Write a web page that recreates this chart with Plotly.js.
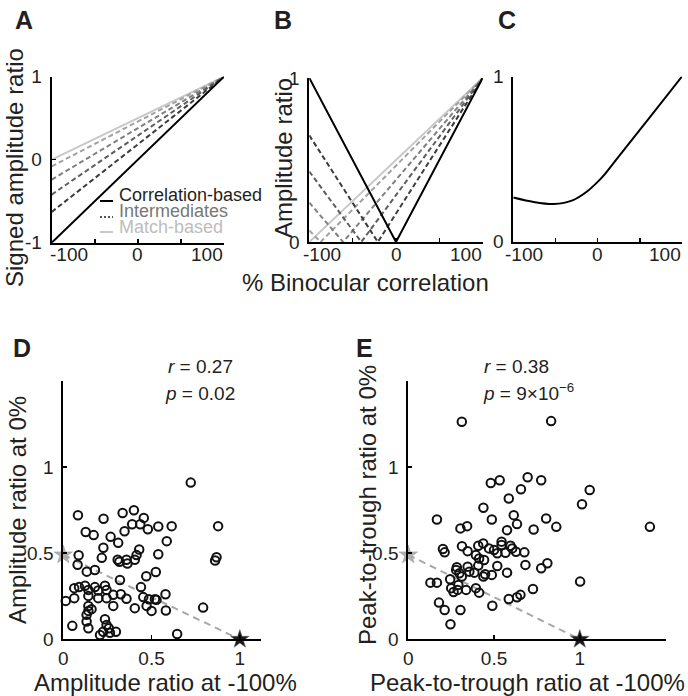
<!DOCTYPE html>
<html>
<head>
<meta charset="utf-8">
<script src="https://cdn.plot.ly/plotly-3.0.1.min.js"></script>
<style>html,body{margin:0;padding:0;background:#fff;}#chart{width:688px;height:696px;}</style>
</head>
<body>
<div id="chart"></div>
<script>
// ---------- DATA ----------
// Panel A: signed amplitude ratio vs % binocular correlation
const corrX = [-100, 100];
const aCorrY = [-1, 1];            // correlation-based
const aMatchY = [0, 1];            // match-based
const aInterStart = [-0.63, -0.42, -0.24, -0.08]; // intermediates at -100%
const aInterEnd = 1;
// Panel B: amplitude ratio
const bCorrX = [-100, 0, 100];
const bCorrY = [1, 0, 1];
const bMatchY = [0, 1];
const bInterStart = [0.65, 0.43, 0.24, 0.07];
const bInterZero = [-21, -40, -61, -87];
// Panel C
const cX = [-100, -76, -52, -29, -13, 0, 7, 23, 62, 100];
const cY = [0.268, 0.241, 0.228, 0.252, 0.302, 0.362, 0.40, 0.503, 0.754, 1.0];
// Panel D: amplitude ratio at -100% (x) vs at 0% (y)
const dX = [0.722,0.083,0.228,0.336,0.400,0.456,0.390,0.436,0.479,0.538,0.614,0.877,0.127,0.172,0.347,0.268,0.311,0.586,0.227,0.430,0.087,0.218,0.538,0.415,0.308,0.358,0.405,0.318,0.363,0.868,0.860,0.081,0.133,0.179,0.321,0.524,0.470,
  0.062,0.089,0.123,0.142,0.179,0.198,0.236,0.245,0.142,0.198,0.245,0.283,0.326,0.358,0.014,0.062,0.283,0.405,0.440,0.453,0.485,0.519,0.472,0.500,0.579,0.528,0.581,0.792,0.645,0.142,0.142,0.160,0.132,0.051,0.132,0.142,0.236,0.245,0.258,0.226,0.264,0.298,0.208];
const dY = [0.910,0.720,0.700,0.733,0.749,0.705,0.668,0.668,0.639,0.655,0.657,0.657,0.623,0.605,0.627,0.595,0.560,0.570,0.532,0.521,0.488,0.473,0.494,0.489,0.462,0.462,0.462,0.450,0.440,0.476,0.458,0.433,0.393,0.402,0.344,0.391,0.366,
  0.297,0.303,0.311,0.287,0.303,0.283,0.311,0.287,0.252,0.239,0.239,0.258,0.262,0.235,0.223,0.239,0.194,0.181,0.303,0.245,0.233,0.233,0.194,0.165,0.262,0.229,0.167,0.184,0.031,0.194,0.165,0.175,0.142,0.078,0.103,0.064,0.117,0.083,0.064,0.044,0.038,0.044,0.025];
// Panel E: peak-to-trough ratio at -100% (x) vs at 0% (y)
const eX = [0.312,0.833,0.481,0.533,0.696,0.775,0.657,1.058,1.013,0.586,0.438,1.409,0.167,0.487,0.615,0.804,0.863,0.304,0.343,0.634,0.576,0.731,0.202,0.212,0.313,0.346,0.408,0.437,0.471,0.500,0.394,0.413,0.544,0.544,0.596,0.606,0.628,0.677,0.519,0.567,0.442,0.408,0.519,0.683,0.775,0.811,0.283,0.279,0.346,0.356,0.312,0.298,0.385,0.438,0.448,0.487,0.576,0.244,0.129,0.167,0.250,0.264,0.288,0.337,0.394,0.413,0.292,0.727,1.002,0.179,0.212,0.304,0.490,0.586,0.634,0.654,0.246];
const eY = [1.263,1.267,0.908,0.924,0.941,0.924,0.871,0.867,0.784,0.818,0.764,0.653,0.696,0.696,0.721,0.702,0.653,0.644,0.657,0.669,0.634,0.638,0.524,0.505,0.541,0.512,0.543,0.557,0.528,0.518,0.489,0.469,0.567,0.548,0.543,0.528,0.508,0.505,0.500,0.503,0.461,0.428,0.426,0.432,0.413,0.442,0.419,0.403,0.422,0.393,0.364,0.384,0.387,0.364,0.378,0.374,0.387,0.349,0.329,0.329,0.297,0.275,0.287,0.287,0.297,0.271,0.316,0.292,0.335,0.213,0.170,0.170,0.195,0.234,0.244,0.258,0.087];
// Model predictions (match-based, correlation-based)
const modelX = [0, 1];
const modelY = [0.49, 0];
// Tick labels
const corrTicks = [-100, -50, 0, 50, 100];
const corrTickLabels = ['-100', '0', '100'];
const corrTickLabelVals = [-100, 0, 100];

const interColors = ['#3c3c3c', '#5e5e5e', '#808080', '#a2a2a2'];
const matchColor = '#c8c8c8';

// ---------- LAYOUT HELPERS ----------
const W = 688, H = 696;
const px = v => v / W;
const py = v => 1 - v / H;
const TXT = '#231f20';
const FONT = '"Liberation Sans", Arial, Helvetica, sans-serif';

function axis(x0, x1, range, tickvals, ticktext, anchor, isY) {
  const a = {
    domain: isY ? [py(x1), py(x0)] : [px(x0), px(x1)],
    range: range, anchor: anchor,
    tickmode: 'array', tickvals: tickvals,
    showline: true, linecolor: '#000', linewidth: 2,
    ticks: 'inside', ticklen: 4, tickwidth: 1.5, tickcolor: '#000',
    showgrid: false, zeroline: false, fixedrange: true,
    tickfont: {size: 19, color: TXT, family: FONT},
    ticklabelstandoff: isY ? 4 : 1
  };
  if (ticktext) a.ticktext = ticktext; else a.showticklabels = false;
  return a;
}

const traces = [];
function line(x, y, xa, ya, color, width, dash) {
  traces.push({type: 'scatter', mode: 'lines', x: x, y: y, xaxis: xa, yaxis: ya,
    line: {color: color, width: width, dash: dash || 'solid'}, cliponaxis: false, hoverinfo: 'skip'});
}

// Panel A
line(corrX, aMatchY, 'x', 'y', matchColor, 2);
for (let i = aInterStart.length - 1; i >= 0; i--) {
  line(corrX, [aInterStart[i], aInterEnd], 'x', 'y', interColors[i], 2, '5px,3px');
}
line(corrX, aCorrY, 'x', 'y', '#000', 2);

// Panel B
line(corrX, bMatchY, 'x2', 'y2', matchColor, 2);
for (let i = bInterStart.length - 1; i >= 0; i--) {
  line([corrX[0], bInterZero[i], corrX[1]], [bInterStart[i], 0, 1], 'x2', 'y2', interColors[i], 2, '5px,3px');
}
line(bCorrX, bCorrY, 'x2', 'y2', '#000', 2);

// Panel C
traces.push({type: 'scatter', mode: 'lines', x: cX, y: cY, xaxis: 'x3', yaxis: 'y3',
  line: {color: '#000', width: 2, shape: 'spline', smoothing: 0.8}, cliponaxis: false});

// Panels D and E
[['x4', 'y4', dX, dY], ['x5', 'y5', eX, eY]].forEach(([xa, ya, X, Y]) => {
  traces.push({type: 'scatter', mode: 'lines', x: modelX, y: modelY, xaxis: xa, yaxis: ya,
    line: {color: '#a8a8a8', width: 2, dash: '7px,5px'}, cliponaxis: false});
  traces.push({type: 'scatter', mode: 'markers', x: X, y: Y, xaxis: xa, yaxis: ya,
    marker: {symbol: 'circle-open', size: 8.5, color: '#111', line: {width: 2, color: '#111'}}, cliponaxis: false});
  traces.push({type: 'scatter', mode: 'markers', x: [modelX[0]], y: [modelY[0]], xaxis: xa, yaxis: ya,
    marker: {symbol: 'star', size: 14, color: '#b0b0b0', line: {width: 0.5, color: '#999'}}, cliponaxis: false});
  traces.push({type: 'scatter', mode: 'markers', x: [modelX[1]], y: [modelY[1]], xaxis: xa, yaxis: ya,
    marker: {symbol: 'star', size: 14, color: '#1a1a1a', line: {width: 0.5, color: '#666'}}, cliponaxis: false});
});

function ann(text, x, y, size, opts) {
  return Object.assign({text: text, x: px(x), y: py(y), xref: 'paper', yref: 'paper',
    showarrow: false, xanchor: 'center', yanchor: 'middle',
    font: {size: size, color: TXT, family: FONT}}, opts || {});
}

const annotations = [
  ann('<b>A</b>', 24, 20, 25), ann('<b>B</b>', 283, 20, 25), ann('<b>C</b>', 507, 20, 25),
  ann('<b>D</b>', 22, 348, 25), ann('<b>E</b>', 364, 348, 25),
  ann('Signed amplitude ratio', 14, 168, 24, {textangle: -90}),
  ann('Amplitude ratio', 283, 158, 24, {textangle: -90}),
  ann('% Binocular correlation', 365, 283, 24),
  ann('Correlation-based', 117, 195, 18, {xanchor: 'left'}),
  ann('Intermediates', 117, 211, 18, {xanchor: 'left', font: {size: 18, color: '#777', family: FONT}}),
  ann('Match-based', 117, 227, 18, {xanchor: 'left', font: {size: 18, color: '#bdbdbd', family: FONT}}),
  ann('<i>r</i> = 0.27', 200, 366, 19), ann('<i>p</i> = 0.02', 200, 393, 19),
  ann('<i>r</i> = 0.38', 516, 366, 19), ann('<i>p</i> = 9×10<sup>−6</sup>', 528, 392, 19),
  ann('Amplitude ratio at 0%', 17, 510, 24, {textangle: -90}),
  ann('Peak-to-trough ratio at 0%', 367, 505, 24, {textangle: -90}),
  ann('Amplitude ratio at -100%', 165, 682, 24),
  ann('Peak-to-trough ratio at -100%', 527, 682, 24)
];

// x tick labels of panels A-C, placed through each panel's own x axis
const leftShift = {x: -4, x2: -8, x3: -10};
['x', 'x2', 'x3'].forEach(xa => {
  corrTickLabelVals.forEach((v, i) => {
    const a = {text: corrTickLabels[i], x: v, xref: xa, y: py(254), yref: 'paper',
      showarrow: false, yanchor: 'middle', font: {size: 19, color: TXT, family: FONT}};
    if (i === 0) { a.xanchor = 'left'; a.xshift = leftShift[xa]; }
    else if (i === corrTickLabelVals.length - 1) { a.xanchor = 'right'; a.xshift = 1; }
    else { a.xanchor = 'center'; }
    annotations.push(a);
  });
});

const shapes = [
  {type: 'line', xref: 'paper', yref: 'paper', x0: px(100), x1: px(113), y0: py(201), y1: py(201), line: {color: '#000', width: 2}},
  {type: 'line', xref: 'paper', yref: 'paper', x0: px(100), x1: px(113), y0: py(217), y1: py(217), line: {color: '#555', width: 2, dash: '2px,2px'}},
  {type: 'line', xref: 'paper', yref: 'paper', x0: px(100), x1: px(113), y0: py(232), y1: py(232), line: {color: matchColor, width: 2}}
];

const xE = axis(408.3, 665.5, [0, 1.5], [0, 0.5, 1], ['0', '0.5', '1'], 'y5', false);
xE.minor = {tickmode: 'array', tickvals: [1.5], ticks: 'inside', ticklen: 4, tickwidth: 1.5, tickcolor: '#000', showgrid: false};

const layout = {
  width: W, height: H, margin: {l: 0, r: 0, t: 0, b: 0},
  paper_bgcolor: '#fff', plot_bgcolor: 'rgba(0,0,0,0)',
  showlegend: false, font: {family: FONT, color: TXT},
  xaxis: axis(51.7, 224, [-100, 100], corrTicks, null, 'y', false),
  yaxis: axis(76.7, 242.7, [-1, 1], [-1, 0, 1], ['-1', '0', '1'], 'x', true),
  xaxis2: axis(309.3, 482.7, [-100, 100], corrTicks, null, 'y2', false),
  yaxis2: axis(78, 242, [0, 1], [0, 1], ['0', '1'], 'x2', true),
  xaxis3: axis(513.3, 682, [-100, 100], corrTicks, null, 'y3', false),
  yaxis3: axis(76.5, 241.7, [0, 1], [0, 1], ['0', '1'], 'x3', true),
  xaxis4: axis(63.3, 261, [0, 1.12], [0, 0.5, 1], ['0', '0.5', '1'], 'y4', false),
  yaxis4: axis(381, 639.3, [0, 1.5], [0, 0.5, 1], ['0', '0.5', '1'], 'x4', true),
  xaxis5: xE,
  yaxis5: axis(381, 639.3, [0, 1.5], [0, 0.5, 1], ['0', '0.5', '1'], 'x5', true),
  annotations: annotations, shapes: shapes
};

Plotly.newPlot('chart', traces, layout, {staticPlot: true, displayModeBar: false});
</script>
</body>
</html>
